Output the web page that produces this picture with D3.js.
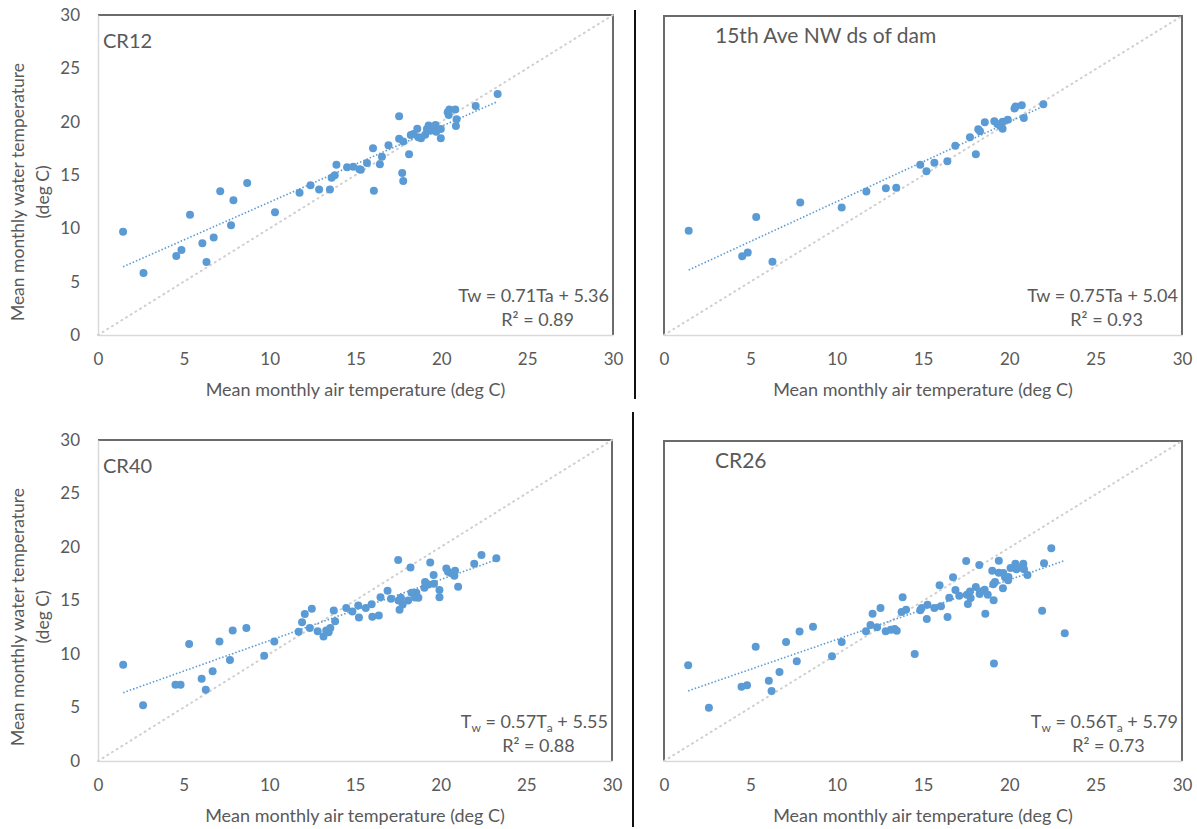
<!DOCTYPE html>
<html lang="en">
  <head>
    <meta charset="UTF-8" />
    <title>Water vs air temperature</title>
    <style>
      body { margin: 0; background: #fff; }
      text { font-family: Lato, "Open Sans", sans-serif; fill: #595959; }
      .tick text { font-size: 17px; }
      .trend { fill: none; stroke: #5b9bd5; stroke-width: 1.6; stroke-dasharray: 1.5 2; }
      .diag { fill: none; stroke: #d0d0d0; stroke-width: 2; stroke-dasharray: 1 4.5; stroke-linecap: round; }
    </style>
  </head>
  <body>
    <svg id="chart" width="1197" height="829"></svg>
    <script src="https://cdn.jsdelivr.net/npm/d3@7"></script>
    <script>
      // tick values shared by every panel
      let tickValues = [0, 5, 10, 15, 20, 25, 30];
      let oneToOne = [0, 30];

      // CR12
      let cr12Air = [1.46, 2.65, 4.56, 4.86, 5.36, 6.08, 6.32, 6.74, 7.12, 7.75, 7.89, 8.69, 10.31, 11.74, 12.38, 12.88, 13.51, 13.61, 13.79, 13.89, 14.51, 14.87, 15.23, 15.31, 15.67, 16.02, 16.07, 16.42, 16.54, 16.92, 17.54, 17.54, 17.72, 17.78, 17.78, 18.12, 18.22, 18.38, 18.6, 18.66, 18.82, 19.06, 19.16, 19.26, 19.36, 19.56, 19.66, 19.7, 19.97, 19.97, 20.37, 20.43, 20.47, 20.81, 20.89, 20.85, 22.0, 23.28];
      let cr12Water = [9.69, 5.81, 7.41, 7.97, 11.28, 8.59, 6.84, 9.13, 13.47, 10.28, 12.63, 14.25, 11.5, 13.34, 14.03, 13.63, 13.63, 14.75, 14.97, 15.97, 15.72, 15.78, 15.53, 15.5, 16.13, 17.5, 13.53, 16.0, 16.72, 17.78, 20.5, 18.4, 15.19, 14.44, 18.13, 16.94, 18.75, 18.84, 19.34, 18.53, 18.44, 18.78, 19.31, 19.63, 19.16, 19.38, 19.69, 19.06, 19.31, 18.44, 20.88, 20.63, 21.13, 21.13, 20.22, 19.59, 21.47, 22.6];

      // 15th Ave NW ds of dam
      let aveAir = [1.43, 4.53, 4.85, 5.34, 6.28, 7.89, 10.29, 11.72, 12.85, 13.45, 14.84, 15.2, 15.66, 16.41, 16.87, 17.72, 18.06, 18.2, 18.3, 18.58, 19.13, 19.31, 19.47, 19.61, 19.61, 19.91, 20.3, 20.36, 20.72, 20.84, 21.97];
      let aveWater = [9.8, 7.4, 7.75, 11.1, 6.9, 12.45, 12.0, 13.5, 13.8, 13.85, 16.0, 15.4, 16.2, 16.35, 17.8, 18.6, 17.0, 19.35, 19.15, 20.0, 20.1, 19.85, 19.65, 20.05, 19.4, 20.25, 21.3, 21.5, 21.6, 20.4, 21.7];

      // CR40
      let cr40Air = [1.47, 2.63, 4.52, 4.82, 5.32, 6.05, 6.29, 6.69, 7.09, 7.7, 7.86, 8.66, 9.7, 10.29, 11.71, 11.91, 12.07, 12.36, 12.48, 12.82, 13.16, 13.32, 13.46, 13.56, 13.76, 13.84, 14.49, 14.85, 15.19, 15.23, 15.63, 15.97, 16.01, 16.39, 16.49, 16.9, 17.1, 17.52, 17.6, 17.54, 17.68, 17.78, 18.1, 18.24, 18.3, 18.5, 18.58, 18.7, 19.05, 19.09, 19.29, 19.39, 19.59, 19.61, 19.93, 19.93, 20.33, 20.43, 20.6, 20.84, 20.8, 21.02, 21.96, 22.38, 23.25];
      let cr40Water = [9.0, 5.22, 7.13, 7.13, 10.94, 7.69, 6.66, 8.38, 11.16, 9.44, 12.19, 12.44, 9.84, 11.16, 12.09, 12.97, 13.75, 12.44, 14.22, 12.13, 11.63, 12.19, 12.03, 12.44, 14.06, 13.06, 14.31, 13.97, 14.53, 13.41, 14.31, 14.66, 13.47, 13.59, 15.31, 15.91, 15.16, 18.78, 14.13, 15.0, 15.25, 14.63, 15.0, 18.09, 15.72, 15.28, 15.72, 15.25, 16.19, 16.72, 16.5, 18.56, 17.38, 16.56, 15.97, 15.31, 18.0, 17.69, 17.56, 17.78, 17.31, 16.28, 18.44, 19.25, 18.94];

      // CR26
      let cr26Air = [1.4, 2.6, 4.49, 4.81, 5.31, 6.07, 6.23, 6.69, 7.07, 7.69, 7.85, 8.63, 9.73, 10.29, 11.7, 11.96, 12.08, 12.34, 12.54, 12.84, 13.14, 13.36, 13.48, 13.76, 13.82, 14.02, 14.52, 14.84, 14.92, 15.22, 15.26, 15.66, 15.96, 16.04, 16.42, 16.52, 16.74, 16.88, 17.1, 17.5, 17.54, 17.6, 17.72, 17.76, 18.06, 18.26, 18.28, 18.34, 18.57, 18.61, 18.75, 19.01, 19.07, 19.11, 19.09, 19.17, 19.39, 19.39, 19.63, 19.65, 19.75, 19.93, 19.95, 20.07, 20.35, 20.41, 20.67, 20.81, 20.85, 21.05, 21.9, 22.01, 22.43, 23.21];
      let cr26Water = [8.97, 5.0, 6.97, 7.09, 10.72, 7.53, 6.56, 8.34, 11.16, 9.34, 12.13, 12.59, 9.81, 11.16, 12.16, 12.75, 13.81, 12.53, 14.34, 12.16, 12.31, 12.38, 12.22, 13.97, 15.34, 14.19, 10.03, 14.13, 14.34, 13.31, 14.66, 14.34, 16.47, 14.5, 13.5, 15.31, 17.22, 16.03, 15.5, 18.75, 15.59, 14.72, 15.88, 15.28, 16.31, 18.38, 15.66, 15.88, 16.06, 13.81, 15.59, 17.84, 16.56, 9.13, 15.06, 16.78, 18.78, 17.66, 16.19, 17.63, 17.22, 16.94, 17.25, 18.09, 18.5, 17.97, 18.13, 18.5, 17.97, 17.44, 14.09, 18.53, 19.94, 11.97];

      let panelNames = ["CR12", "15th Ave NW ds of dam", "CR40", "CR26"];
      let slopes = [0.71, 0.75, 0.57, 0.56];
      let intercepts = [5.36, 5.04, 5.55, 5.79];
      let rSquared = ["0.89", "0.93", "0.88", "0.73"];

      let svg = d3.select("#chart");

      // layout of the four panels
      let panels = [
        { air: cr12Air, water: cr12Water, left: 98, right: 613, top: 15, bottom: 335, yLabels: true, box: false, sub: false },
        { air: aveAir, water: aveWater, left: 664, right: 1182, top: 16, bottom: 335, yLabels: false, box: true, sub: false },
        { air: cr40Air, water: cr40Water, left: 98, right: 612, top: 440, bottom: 761, yLabels: true, box: false, sub: true },
        { air: cr26Air, water: cr26Water, left: 664, right: 1182, top: 441, bottom: 761, yLabels: false, box: true, sub: true },
      ];

      // black divider lines between the columns
      svg.append("line").attr("x1", 635).attr("x2", 635).attr("y1", 10).attr("y2", 399)
        .attr("stroke", "#111").attr("stroke-width", 2);
      svg.append("line").attr("x1", 633).attr("x2", 633).attr("y1", 412).attr("y2", 827)
        .attr("stroke", "#111").attr("stroke-width", 2);

      panels.forEach((p, i) => {
        let x = d3.scaleLinear().domain([0, 30]).range([p.left, p.right]);
        let y = d3.scaleLinear().domain([0, 30]).range([p.bottom, p.top]);
        let g = svg.append("g");

        // frame (dark on top/right, also left for right-hand panels)
        let frame = d3.path();
        if (p.box) { frame.moveTo(p.left, p.bottom); frame.lineTo(p.left, p.top); }
        else frame.moveTo(p.left, p.top);
        frame.lineTo(p.right, p.top);
        frame.lineTo(p.right, p.bottom);
        g.append("path").attr("d", frame.toString()).attr("fill", "none")
          .attr("stroke", "#6b6b6b").attr("stroke-width", 2);

        // axes
        let xAxis = g.append("g").attr("transform", "translate(0," + p.bottom + ")")
          .call(d3.axisBottom(x).tickValues(tickValues).tickSize(0).tickPadding(18));
        xAxis.select(".domain").attr("stroke", "#d9d9d9").attr("stroke-width", 1.5);
        xAxis.selectAll("text").attr("fill", "#595959");

        if (p.yLabels) {
          let yAxis = g.append("g").attr("transform", "translate(" + p.left + ",0)")
            .call(d3.axisLeft(y).tickValues(tickValues).tickSize(0).tickPadding(18));
          yAxis.select(".domain").attr("stroke", "#d9d9d9").attr("stroke-width", 1.5);
          yAxis.selectAll("text").attr("fill", "#595959");

          let cy = p.top + 177;
          let yt = g.append("text").attr("transform", "translate(24," + cy + ") rotate(-90)")
            .attr("text-anchor", "middle").style("font-size", "17.5px");
          yt.append("tspan").attr("x", 0).attr("dy", 0).text("Mean monthly water temperature");
          yt.append("tspan").attr("x", 0).attr("dy", 25).text("(deg C)");
        }

        g.append("text").attr("x", (p.left + p.right) / 2).attr("y", p.bottom + 61)
          .attr("text-anchor", "middle").style("font-size", "18px")
          .text("Mean monthly air temperature (deg C)");

        // 1:1 line
        g.append("path").attr("class", "diag")
          .attr("d", d3.line().x(d => x(d)).y(d => y(d))(oneToOne));

        // trend line over the data range
        let ext = d3.extent(p.air);
        g.append("path").attr("class", "trend")
          .attr("d", d3.line().x(d => x(d)).y(d => y(slopes[i] * d + intercepts[i]))(ext));

        // points
        g.selectAll("circle").data(p.air).join("circle")
          .attr("cx", d => x(d))
          .attr("cy", (d, j) => y(p.water[j]))
          .attr("r", 4)
          .attr("fill", "#5b9bd5");

        // panel title
        g.append("text").attr("x", p.box ? p.left + 51 : p.left + 5).attr("y", p.top + (p.box ? 27 : 33))
          .style("font-size", p.box ? "21px" : "20px").text(panelNames[i]);

        // regression text
        let ex = p.right - 4;
        let eq = g.append("text").attr("x", ex).attr("y", p.bottom - 33)
          .attr("text-anchor", "end").style("font-size", "18px");
        let m = slopes[i].toFixed(2), b = intercepts[i].toFixed(2);
        if (p.sub) {
          eq.append("tspan").text("T");
          eq.append("tspan").attr("dy", 4).style("font-size", "12px").text("w");
          eq.append("tspan").attr("dy", -4).text(" = " + m + "T");
          eq.append("tspan").attr("dy", 4).style("font-size", "12px").text("a");
          eq.append("tspan").attr("dy", -4).text(" + " + b);
        } else {
          eq.text("Tw = " + m + "Ta + " + b);
        }
        let eqBox = eq.node().getBBox();
        g.append("text").attr("x", eqBox.x + eqBox.width / 2 + 4).attr("y", p.bottom - 9)
          .attr("text-anchor", "middle").style("font-size", "18px")
          .text("R² = " + rSquared[i]);
      });
    </script>
  </body>
</html>
